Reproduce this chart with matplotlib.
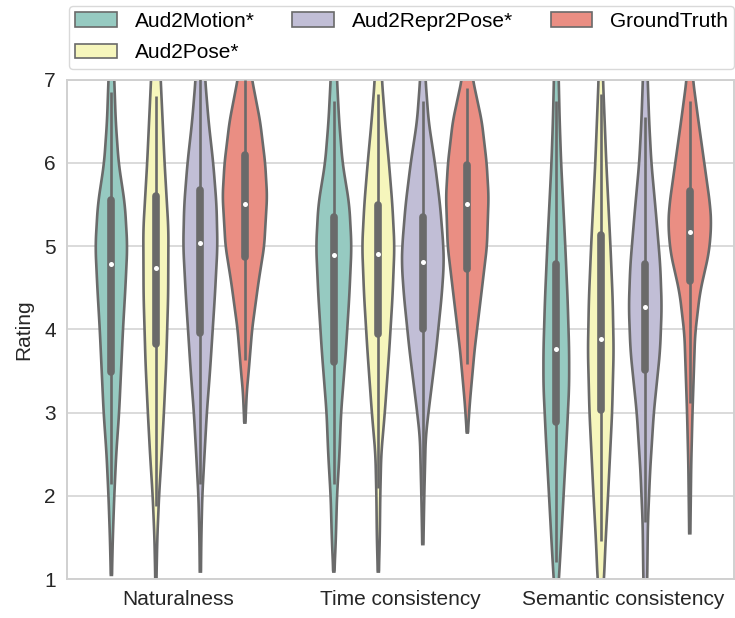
import colorsys
import matplotlib
matplotlib.use("Agg")
import matplotlib.pyplot as plt
import matplotlib.colors as mcolors
from matplotlib.patches import Patch
import numpy as np

# 類別與方法
groups = ["Naturalness", "Time consistency", "Semantic consistency"]
methods = ["Aud2Motion*", "Aud2Pose*", "Aud2Repr2Pose*", "GroundTruth"]
palette = ["#8dd3c7", "#ffffb3", "#bebada", "#fb8072"]

# 箱形統計 (每組 4 個方法)
q1 = [[3.49, 3.82, 3.96, 4.87], [3.61, 3.94, 4.00, 4.72], [2.89, 3.03, 3.51, 4.58]]
med = [[4.78, 4.74, 5.04, 5.51], [4.89, 4.90, 4.81, 5.51], [3.76, 3.88, 4.27, 5.17]]
q3 = [[5.55, 5.60, 5.68, 6.09], [5.35, 5.49, 5.35, 5.97], [4.78, 5.14, 4.79, 5.66]]
whisk_lo = [[2.14, 1.88, 2.14, 3.63], [2.14, 2.10, 2.00, 3.58], [1.20, 1.46, 1.69, 3.12]]
whisk_hi = [[6.85, 6.80, 7.20, 7.00], [6.75, 6.83, 6.75, 6.90], [6.75, 6.83, 6.55, 6.75]]

# 小提琴密度輪廓 (rating, 相對半寬)
nat_profiles = [
    [(1.05, .6), (1.5, 1.5), (2.0, 3), (2.5, 5), (3.0, 8), (3.5, 10), (4.0, 12), (4.5, 14.5),
     (5.0, 16.5), (5.5, 14), (6.0, 7.5), (6.5, 4.5), (7.0, 3), (7.3, 2)],
    [(1.0, .6), (1.5, 1.5), (2.0, 3.3), (2.5, 6), (3.0, 8.3), (3.6, 10.7), (4.4, 12.7),
     (5.2, 13), (6.0, 9), (6.5, 7), (7.0, 5), (7.3, 4)],
    [(1.09, .6), (1.5, 1), (2.0, 2), (2.5, 4.3), (3.0, 6.7), (3.5, 10), (4.4, 15), (5.0, 17.7),
     (5.5, 16.7), (6.0, 13.3), (6.5, 8.5), (7.0, 5), (7.3, 4)],
    [(2.88, .6), (3.25, 2), (3.5, 4), (4.0, 7.5), (4.56, 14), (5.0, 20), (5.6, 23), (6.0, 21),
     (6.5, 15.8), (7.0, 7.5), (7.3, 4)],
]
time_profiles = [
    [(1.09, .6), (1.46, 2), (2.0, 3.3), (2.5, 5.8), (3.0, 7.5), (3.75, 12.5), (4.4, 16),
     (5.0, 18.3), (5.5, 16), (6.0, 9), (6.5, 5.5), (7.0, 3.3), (7.3, 2.5)],
    [(1.09, .6), (1.5, 1.5), (2.0, 2), (2.5, 3), (3.0, 6.7), (3.75, 11.3), (4.4, 14.7),
     (5.0, 16.7), (5.5, 14.5), (6.0, 11), (6.5, 7), (7.0, 3.7), (7.3, 3)],
    [(1.42, .6), (2.0, 1.5), (2.7, 3), (3.0, 5.8), (3.75, 13.8), (4.4, 19.5), (4.77, 21.7),
     (5.0, 21.3), (5.5, 17.8), (6.0, 12.5), (6.5, 6), (7.0, 2.8), (7.3, 2)],
    [(2.76, .6), (3.1, 2.5), (3.3, 4), (3.75, 7.5), (4.4, 14.2), (5.0, 20.3), (5.6, 22),
     (6.0, 20), (6.5, 15), (7.0, 5.8), (7.3, 3)],
]
sem_profiles = [
    [(0.8, 1.5), (1.0, 2.7), (1.46, 5), (2.0, 7.5), (2.7, 10.8), (3.32, 13.3), (3.74, 13.3),
     (4.36, 11.7), (5.0, 9.3), (6.0, 5), (6.5, 3.5), (7.0, 2.5), (7.3, 2)],
    [(0.8, 2), (1.0, 3.3), (1.46, 5), (2.0, 7.5), (3.0, 11.7), (3.74, 13.3), (4.36, 12.3),
     (5.0, 10), (6.0, 5.7), (6.5, 4), (7.0, 2.3), (7.3, 2)],
    [(0.8, 1.5), (1.0, 2), (1.67, 2.7), (2.3, 5), (3.0, 8.8), (3.74, 15.3), (4.27, 17),
     (4.77, 15.5), (5.4, 11), (6.0, 6.3), (6.5, 4), (7.0, 2.5), (7.3, 2)],
    [(1.55, .6), (2.38, 1.5), (3.0, 2.8), (3.94, 5.5), (4.44, 10.5), (4.93, 20), (5.26, 22.3),
     (5.5, 21), (6.0, 15), (6.5, 9), (7.0, 3.3), (7.3, 2)],
]
profiles = [nat_profiles, time_profiles, sem_profiles]


def desaturate(c, prop=0.75):
    r, g, b = mcolors.to_rgb(c)
    h, l, s = colorsys.rgb_to_hls(r, g, b)
    return colorsys.hls_to_rgb(h, l, s * prop)


def smooth_profile(pts):
    yk = np.array([p[0] for p in pts])
    wk = np.array([p[1] for p in pts])
    ys = np.linspace(yk[0], yk[-1], 400)
    ws = np.interp(ys, yk, wk)
    k = 21
    pad = np.pad(ws, k // 2, mode="edge")
    ws = np.convolve(pad, np.ones(k) / k, mode="valid")
    ws[0] = wk[0]
    return ys, ws


plt.rcParams['font.family'] = ['Liberation Sans', 'DejaVu Sans']
fig = plt.figure(figsize=(7.35, 6.18), dpi=100)
ax = fig.add_axes([0.091, 0.063, 0.908, 0.808])

edge = "#6a6a6a"
scale = 0.1 / 23.0  # 半寬 -> x 單位
offsets = [-0.3, -0.1, 0.1, 0.3]
colors = [desaturate(c) for c in palette]

for gi in range(len(groups)):
    for mi in range(len(methods)):
        xc = gi + offsets[mi]
        ys, ws = smooth_profile(profiles[gi][mi])
        ws = ws * scale
        xs = np.concatenate([xc - ws, (xc + ws)[::-1]])
        yy = np.concatenate([ys, ys[::-1]])
        ax.fill(xs, yy, facecolor=colors[mi], edgecolor=edge, linewidth=1.9, zorder=2)
        ax.vlines(xc, whisk_lo[gi][mi], whisk_hi[gi][mi], color=edge, linewidth=1.9, zorder=3)
        ax.vlines(xc, q1[gi][mi], q3[gi][mi], color=edge, linewidth=5.5, zorder=3,
                  capstyle="round")
        ax.plot(xc, med[gi][mi], "o", color="white", markersize=3.6, zorder=4,
                markeredgewidth=0)

ax.set_xlim(-0.5, 2.5)
ax.set_ylim(1, 7)
ax.set_xticks(range(len(groups)))
ax.set_xticklabels(groups)
ax.set_yticks(range(1, 8))
ax.set_ylabel("Rating", fontsize=15, color="#262626", labelpad=8)
ax.tick_params(axis="both", labelsize=15, colors="#262626", length=0, pad=8)
ax.yaxis.grid(True, color="#dadada", linewidth=1.4, zorder=0)
ax.set_axisbelow(True)
for s in ax.spines.values():
    s.set_color("#d0d0d0")
    s.set_linewidth(1.4)

handles = [Patch(facecolor=colors[i], edgecolor=edge, linewidth=1.2, label=methods[i])
           for i in range(len(methods))]
ax.legend(handles=handles, loc="lower left", bbox_to_anchor=(0.003, 1.022, 0.997, 0.2),
          mode="expand", ncol=3, fontsize=15, frameon=True, edgecolor="#d0d0d0",
          handlelength=2.0, handletextpad=0.85, labelspacing=0.6, borderaxespad=0,
          borderpad=0.3)

fig.savefig("out.png", dpi=100, facecolor="white")
